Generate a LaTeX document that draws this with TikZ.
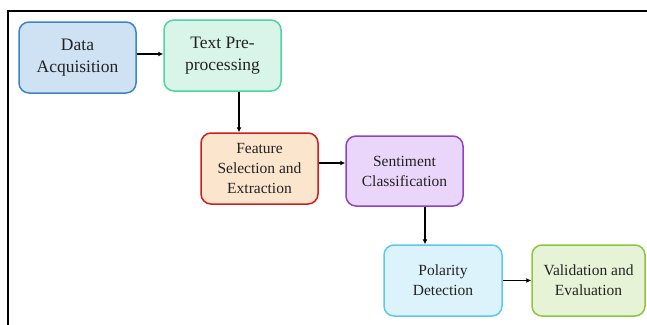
\documentclass[tikz,border=0pt]{standalone}
\usepackage{fontspec}
\setmainfont{Liberation Serif}
\usetikzlibrary{arrows.meta}

\definecolor{daFill}{HTML}{CFE2F3}\definecolor{daLine}{HTML}{3D85C6}
\definecolor{tpFill}{HTML}{D9F5EA}\definecolor{tpLine}{HTML}{4FD3A2}
\definecolor{fsFill}{HTML}{FCE5CD}\definecolor{fsLine}{HTML}{CC1F1F}
\definecolor{scFill}{HTML}{EAD5FB}\definecolor{scLine}{HTML}{8E44C2}
\definecolor{pdFill}{HTML}{DDF3FB}\definecolor{pdLine}{HTML}{5CC9EC}
\definecolor{veFill}{HTML}{E7F3D7}\definecolor{veLine}{HTML}{8CC63F}
\definecolor{txt}{HTML}{222222}

\tikzset{
  stage/.style={draw, rounded corners=10pt, line width=1.5pt, align=center,
    text=txt, inner sep=0pt, minimum width=117pt, minimum height=71pt},
  bigtext/.style={font=\fontsize{17.5}{21.5}\selectfont},
  smalltext/.style={font=\fontsize{15.5}{20}\selectfont},
  flow/.style={line width=1.3pt, -{Latex[length=5pt,width=5pt]}}
}

\begin{document}
\begin{tikzpicture}[x=1pt, y=-1pt]
  \useasboundingbox (0,0) rectangle (647,324);
  \clip (0,0) rectangle (647,324);
  \fill[white] (0,0) rectangle (647,324);

  % outer frame
  \draw[line width=2pt] (8,340) -- (8,11) -- (660,11);

  % pipeline stages
  \node[stage, bigtext, fill=daFill, draw=daLine] (da) at (77.5,57.5) {Data\\Acquisition};
  \node[stage, bigtext, fill=tpFill, draw=tpLine] (tp) at (222.5,55.5) {Text Pre-\\processing};
  \node[stage, smalltext, fill=fsFill, draw=fsLine] (fs) at (259.5,168.5) {Feature\\Selection and\\Extraction};
  \node[stage, smalltext, fill=scFill, draw=scLine, minimum height=70pt] (sc) at (404.5,171) {Sentiment\\Classification};
  \node[stage, smalltext, fill=pdFill, draw=pdLine, minimum width=118pt] (pd) at (443,280.5) {Polarity\\Detection};
  \node[stage, smalltext, fill=veFill, draw=veLine, minimum width=113pt] (ve) at (588.5,280.5) {Validation and\\Evaluation};

  % connectors
  \draw[flow] ([yshift=3.5pt]da.east) coordinate (a1) -- (a1 -| tp.west);
  \draw[flow] ([xshift=16.5pt]tp.south) coordinate (a2) -- (a2 |- fs.north);
  \draw[flow] ([yshift=5.5pt]fs.east) coordinate (a3) -- (a3 -| sc.west);
  \draw[flow] ([xshift=20.5pt]sc.south) coordinate (a4) -- (a4 |- pd.north);
  \draw[flow] (pd.east) -- (ve.west);
\end{tikzpicture}
\end{document}
